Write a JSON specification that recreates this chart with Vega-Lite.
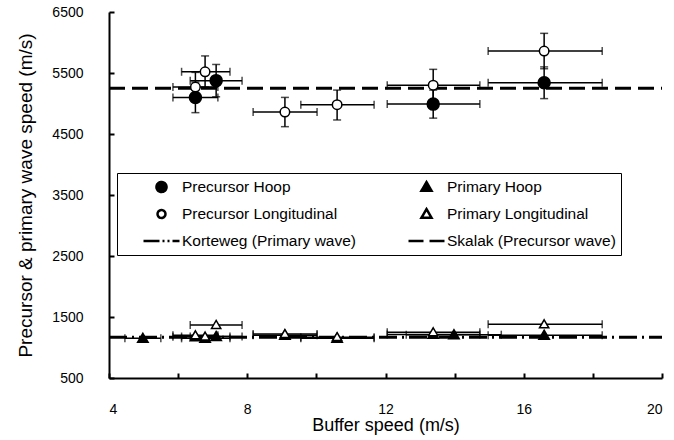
{
  "$schema": "https://vega.github.io/schema/vega-lite/v6.json",
  "width": 553,
  "height": 366,
  "autosize": "none",
  "padding": {"left": 109, "top": 12, "right": 12, "bottom": 62},
  "background": "white",
  "view": {"stroke": null},
  "config": {
    "font": "Liberation Sans",
    "axis": {
      "labelFont": "Liberation Sans", "labelFontSize": 14, "labelColor": "black",
      "titleFont": "Liberation Sans", "titleFontWeight": "normal", "titleColor": "black",
      "domainColor": "black", "domainWidth": 2, "tickColor": "black", "tickWidth": 2,
      "tickSize": -5, "grid": false
    }
  },
  "datasets": {
    "pts": [
      {"series": "Precursor Hoop", "x": 6.5, "y": 5100, "xlo": 5.85, "xhi": 7.15, "ylo": 4850, "yhi": 5350},
      {"series": "Precursor Hoop", "x": 7.1, "y": 5375, "xlo": 6.35, "xhi": 7.85, "ylo": 5110, "yhi": 5640},
      {"series": "Precursor Hoop", "x": 13.38, "y": 4990, "xlo": 12.05, "xhi": 14.73, "ylo": 4760, "yhi": 5220},
      {"series": "Precursor Hoop", "x": 16.59, "y": 5340, "xlo": 14.97, "xhi": 18.27, "ylo": 5080, "yhi": 5600},
      {"series": "Precursor Longitudinal", "x": 6.5, "y": 5270, "xlo": 5.85, "xhi": 7.15, "ylo": 5030, "yhi": 5510},
      {"series": "Precursor Longitudinal", "x": 6.78, "y": 5520, "xlo": 6.1, "xhi": 7.5, "ylo": 5270, "yhi": 5780},
      {"series": "Precursor Longitudinal", "x": 9.09, "y": 4860, "xlo": 8.17, "xhi": 10.02, "ylo": 4620, "yhi": 5100},
      {"series": "Precursor Longitudinal", "x": 10.6, "y": 4980, "xlo": 9.55, "xhi": 11.67, "ylo": 4730, "yhi": 5220},
      {"series": "Precursor Longitudinal", "x": 13.38, "y": 5300, "xlo": 12.05, "xhi": 14.73, "ylo": 5050, "yhi": 5560},
      {"series": "Precursor Longitudinal", "x": 16.59, "y": 5860, "xlo": 14.97, "xhi": 18.27, "ylo": 5570, "yhi": 6150},
      {"series": "Primary Hoop", "x": 4.98, "y": 1150, "xlo": 4.46, "xhi": 5.5},
      {"series": "Primary Hoop", "x": 6.5, "y": 1175, "xlo": 5.85, "xhi": 7.15},
      {"series": "Primary Hoop", "x": 6.78, "y": 1150, "xlo": 6.1, "xhi": 7.5},
      {"series": "Primary Hoop", "x": 7.1, "y": 1180, "xlo": 6.35, "xhi": 7.85},
      {"series": "Primary Hoop", "x": 9.09, "y": 1200, "xlo": 8.17, "xhi": 10.02},
      {"series": "Primary Hoop", "x": 10.6, "y": 1150, "xlo": 9.55, "xhi": 11.67},
      {"series": "Primary Hoop", "x": 13.38, "y": 1215, "xlo": 12.05, "xhi": 14.73},
      {"series": "Primary Hoop", "x": 13.98, "y": 1210, "xlo": 12.6, "xhi": 15.35},
      {"series": "Primary Hoop", "x": 16.59, "y": 1200, "xlo": 14.97, "xhi": 18.27},
      {"series": "Primary Longitudinal", "x": 6.5, "y": 1200, "xlo": 5.85, "xhi": 7.15},
      {"series": "Primary Longitudinal", "x": 6.78, "y": 1180, "xlo": 6.1, "xhi": 7.5},
      {"series": "Primary Longitudinal", "x": 7.1, "y": 1370, "xlo": 6.35, "xhi": 7.85},
      {"series": "Primary Longitudinal", "x": 9.09, "y": 1220, "xlo": 8.17, "xhi": 10.02},
      {"series": "Primary Longitudinal", "x": 10.6, "y": 1170, "xlo": 9.55, "xhi": 11.67},
      {"series": "Primary Longitudinal", "x": 13.38, "y": 1250, "xlo": 12.05, "xhi": 14.73},
      {"series": "Primary Longitudinal", "x": 16.59, "y": 1380, "xlo": 14.97, "xhi": 18.27}
    ],
    "lines": [
      {"series": "Korteweg (Primary wave)", "y": 1170, "x1": 4, "x2": 20},
      {"series": "Skalak (Precursor wave)", "y": 5250, "x1": 4, "x2": 20}
    ]
  },
  "layer": [
    {
      "data": {"name": "lines"},
      "mark": {"type": "rule", "strokeWidth": 3, "color": "black"},
      "encoding": {
        "x": {"field": "x1", "type": "quantitative", "title": "Buffer speed (m/s)", "scale": {"domain": [4, 20], "nice": false, "zero": false},
          "axis": {"titleFontSize": 18, "values": [4, 6, 8, 10, 12, 14, 16, 18, 20],
            "labelExpr": "datum.value % 4 == 0 ? datum.label : ''", "labelPadding": 29, "titlePadding": 0}},
        "x2": {"field": "x2"},
        "y": {"field": "y", "type": "quantitative", "title": "Precursor & primary wave speed (m/s)", "scale": {"domain": [500, 6500], "nice": false, "zero": false},
          "axis": {"titleFontSize": 19, "format": "d",
            "values": [500, 1000, 1500, 2000, 2500, 3000, 3500, 4000, 4500, 5000, 5500, 6000, 6500],
            "labelExpr": "datum.value % 1000 == 500 ? datum.label : ''", "labelPadding": 31, "titlePadding": 16}},
        "strokeDash": {"field": "series", "type": "nominal", "legend": null,
          "scale": {"domain": ["Korteweg (Primary wave)", "Skalak (Precursor wave)"], "range": [[18, 5, 2, 5], [16, 7]]}}
      }
    },
    {
      "data": {"name": "pts"},
      "mark": {"type": "errorbar", "thickness": 1.5, "color": "black", "ticks": {"size": 8, "thickness": 1.5, "color": "black"}},
      "encoding": {
        "x": {"field": "xlo", "type": "quantitative", "title": "Buffer speed (m/s)"},
        "x2": {"field": "xhi"},
        "y": {"field": "y", "type": "quantitative", "title": "Precursor & primary wave speed (m/s)"}
      }
    },
    {
      "data": {"name": "pts"},
      "transform": [{"filter": "isValid(datum.ylo)"}],
      "mark": {"type": "errorbar", "thickness": 1.5, "color": "black", "ticks": {"size": 8, "thickness": 1.5, "color": "black"}},
      "encoding": {
        "y": {"field": "ylo", "type": "quantitative", "title": "Precursor & primary wave speed (m/s)"},
        "y2": {"field": "yhi"},
        "x": {"field": "x", "type": "quantitative", "title": "Buffer speed (m/s)"}
      }
    },
    {
      "data": {"name": "pts"},
      "mark": {"type": "point", "filled": true, "stroke": "black", "opacity": 1},
      "encoding": {
        "x": {"field": "x", "type": "quantitative", "title": "Buffer speed (m/s)"},
        "y": {"field": "y", "type": "quantitative", "title": "Precursor & primary wave speed (m/s)"},
        "strokeWidth": {"value": 1.5},
        "fill": {"field": "series", "type": "nominal", "legend": null,
          "scale": {"domain": ["Precursor Hoop", "Primary Hoop", "Precursor Longitudinal", "Primary Longitudinal"], "range": ["black", "black", "white", "white"]}},
        "size": {"field": "series", "type": "nominal", "legend": null,
          "scale": {"type": "ordinal", "domain": ["Precursor Hoop", "Primary Hoop", "Precursor Longitudinal", "Primary Longitudinal"], "range": [1837, 1406, 1866, 1100]}},
        "shape": {"field": "series", "type": "nominal",
          "scale": {"domain": ["Precursor Hoop", "Precursor Longitudinal", "Korteweg (Primary wave)", "Primary Hoop", "Primary Longitudinal", "Skalak (Precursor wave)"],
            "range": [
              "M-0.28,0A0.28,0.28,0,1,1,0.28,0A0.28,0.28,0,1,1,-0.28,0Z",
              "M-0.22,0A0.22,0.22,0,1,1,0.22,0A0.22,0.22,0,1,1,-0.22,0Z",
              "M-1,0L1,0",
              "M0,-0.27L0.28,0.21L-0.28,0.21Z",
              "M0,-0.27L0.28,0.21L-0.28,0.21Z",
              "M-1,0L1,0"
            ]},
          "legend": {
            "title": null, "orient": "none", "legendX": 8, "legendY": 161, "columns": 2,
            "symbolSize": 1296, "clipHeight": 18, "rowPadding": 9, "columnPadding": 31, "padding": 5,
            "labelOffset": 1, "symbolOffset": 20, "labelFont": "Liberation Sans", "labelFontSize": 15.5, "labelColor": "black",
            "labelLimit": 400, "strokeColor": "black", "fillColor": "white",
            "symbolStrokeColor": "black", "symbolStrokeWidth": 2.5, "symbolOpacity": 1,
            "symbolFillColor": {"expr": "indexof(datum.value, 'Longitudinal') >= 0 ? 'white' : (indexof(datum.value, 'wave') >= 0 ? 'transparent' : 'black')"},
            "symbolDash": {"expr": "indexof(datum.value, 'Korteweg') >= 0 ? [16, 3, 2, 3, 2, 3] : (indexof(datum.value, 'Skalak') >= 0 ? [15, 6] : [1, 0])"}
          }
        }
      }
    }
  ]
}
